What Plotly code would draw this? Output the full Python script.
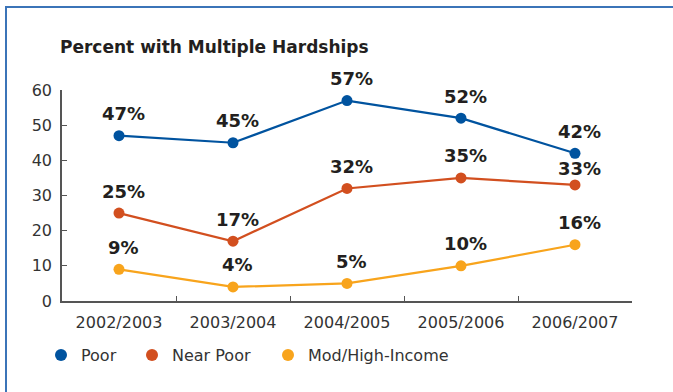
import plotly.graph_objects as go

categories = ["2002/2003", "2003/2004", "2004/2005", "2005/2006", "2006/2007"]
poor = [47, 45, 57, 52, 42]
near_poor = [25, 17, 32, 35, 33]
mod_high = [9, 4, 5, 10, 16]
series_names = ["Poor", "Near Poor", "Mod/High-Income"]
y_ticks = [0, 10, 20, 30, 40, 50, 60]

colors = ["#00539f", "#d24f1f", "#f8a41c"]
FONT = "DejaVu Sans"
W, H = 673, 392
ML, MR, MT, MB = 62, 41, 90, 91
PW, PH = W - ML - MR, H - MT - MB


def px2paper_x(X):
    return (X - ML) / PW


def px2paper_y(Y):
    return (H - MB - Y) / PH


fig = go.Figure()
all_series = [poor, near_poor, mod_high]
legend_widths = [46, 91, None]
for name, vals, col, lw in zip(series_names, all_series, colors, legend_widths):
    fig.add_trace(go.Scatter(
        x=categories, y=vals, mode="lines+markers", name=name,
        line=dict(color=col, width=2.2), marker=dict(color=col, size=11),
        showlegend=False, cliponaxis=False,
    ))
    kw = dict(legendwidth=lw) if lw else {}
    fig.add_trace(go.Scatter(
        x=[None], y=[None], mode="markers", name=name,
        marker=dict(color=col, size=12), showlegend=True, **kw,
    ))

# data labels
for vals in all_series:
    for c, v in zip(categories, vals):
        shift = 22
        if v == 33:
            shift = 16
        fig.add_annotation(
            x=c, y=v, text=f"{v}%", showarrow=False, xshift=4, yshift=shift,
            font=dict(family=FONT, size=18, color="#231f20", weight="bold"),
        )

# frame border: a rectangle whose right and bottom edges lie outside the page
fig.add_shape(type="rect", xref="paper", yref="paper", layer="below",
              x0=px2paper_x(6), x1=px2paper_x(W + 60),
              y0=px2paper_y(H + 60), y1=px2paper_y(7),
              line=dict(color="#3b74b8", width=2), fillcolor="rgba(0,0,0,0)")

fig.update_layout(
    width=W, height=H,
    margin=dict(l=ML, r=MR, t=MT, b=MB),
    paper_bgcolor="white", plot_bgcolor="rgba(0,0,0,0)",
    font=dict(family=FONT, size=16, color="#333333"),
    title=dict(text="Percent with Multiple Hardships", x=60 / W, xanchor="left",
               y=1 - 47 / H, yanchor="middle",
               font=dict(family=FONT, size=17, color="#231f20", weight="bold")),
    showlegend=True,
    legend=dict(orientation="h", x=px2paper_x(41), xanchor="left",
                y=px2paper_y(338), yanchor="top",
                font=dict(family=FONT, size=16, color="#333333"),
                bgcolor="rgba(0,0,0,0)", itemclick=False),
    xaxis=dict(
        type="category", range=[-0.5, 4.5], showgrid=False,
        showline=True, linecolor="#555555", linewidth=1.5,
        ticks="inside", ticklen=5, tickcolor="#555555", tickson="boundaries",
        tickfont=dict(family=FONT, size=16, color="#333333"),
        ticklabelstandoff=6,
    ),
    yaxis=dict(
        range=[0, 60], tickvals=y_ticks, showgrid=False, zeroline=False,
        showline=True, linecolor="#555555", linewidth=1.5,
        ticks="inside", ticklen=5, tickcolor="#555555",
        tickfont=dict(family=FONT, size=16, color="#333333"),
        ticklabelstandoff=5,
    ),
)

fig.write_html(
    "out.html",
    config={"displayModeBar": False},
    post_script="document.body.style.margin='0px';document.body.style.overflow='hidden';",
)
